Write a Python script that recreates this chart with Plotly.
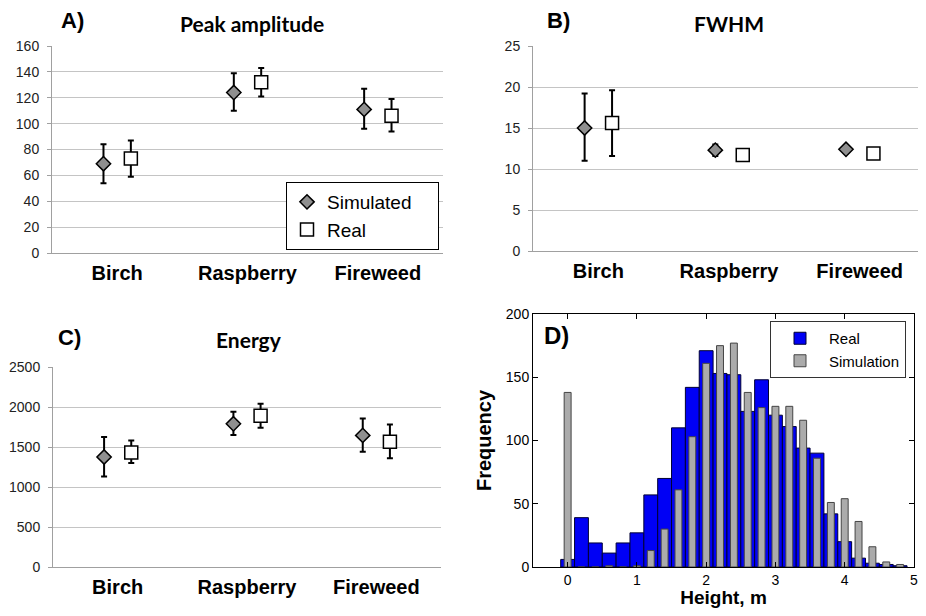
import plotly.graph_objects as go

# ---------------- data ----------------
categories = ["Birch", "Raspberry", "Fireweed"]

amp_sim = [69, 124, 111]
amp_sim_lo = [54, 110, 96]
amp_sim_hi = [84, 139, 127]
amp_real = [73, 132, 106]
amp_real_lo = [59, 121, 94]
amp_real_hi = [87, 143, 119]

fwhm_sim = [15.0, 12.3, 12.4]
fwhm_sim_lo = [11.0, 11.6, 12.1]
fwhm_sim_hi = [19.2, 13.0, 12.7]
fwhm_real = [15.6, 11.7, 11.9]
fwhm_real_lo = [11.6, 11.5, 11.7]
fwhm_real_hi = [19.6, 11.9, 12.1]

en_sim = [1375, 1790, 1645]
en_sim_lo = [1130, 1650, 1440]
en_sim_hi = [1625, 1940, 1855]
en_real = [1430, 1890, 1565]
en_real_lo = [1300, 1740, 1360]
en_real_hi = [1580, 2040, 1780]

hist_bins = [0.0, 0.2, 0.4, 0.6, 0.8, 1.0, 1.2, 1.4, 1.6, 1.8, 2.0, 2.2, 2.4,
             2.6, 2.8, 3.0, 3.2, 3.4, 3.6, 3.8, 4.0, 4.2, 4.4, 4.6, 4.8]
hist_real = [6, 39, 19, 11, 19, 27, 57, 70, 110, 142, 171, 153, 152,
             123, 148, 120, 111, 94, 90, 42, 20, 7, 3, 2, 1]
hist_sim = [138, 0, 0, 1, 0, 1, 13, 30, 61, 103, 161, 175, 177,
            138, 126, 127, 127, 116, 86, 51, 54, 36, 16, 4, 2]

# ---------------- figure ----------------
OX, OY = 8, 8  # page body margin offset
W, H = 926 - 2 * OX, 616 - 2 * OY
fig = go.Figure()

def px_x(a, b):
    return [(a - OX) / W, min(1.0, (b - OX) / W)]

def px_y(top, bottom):
    return [1 - (bottom - OY) / H, 1 - (top - OY) / H]

SIM_FILL = "#8f8f8f"
AX_COL = "#a0a0a0"
GRID_COL = "#c4c4c4"
FONT = "Liberation Sans, Arial, sans-serif"
TITLE_FONT = "Lato, Liberation Sans, sans-serif"

panels = [
    ("x", "y", amp_sim, amp_sim_lo, amp_sim_hi, amp_real, amp_real_lo, amp_real_hi, True),
    ("x2", "y2", fwhm_sim, fwhm_sim_lo, fwhm_sim_hi, fwhm_real, fwhm_real_lo, fwhm_real_hi, False),
    ("x3", "y3", en_sim, en_sim_lo, en_sim_hi, en_real, en_real_lo, en_real_hi, False),
]

off = 0.105
for xa, ya, s, slo, shi, r, rlo, rhi, sl in panels:
    xs = [i - off for i in range(len(categories))]
    xr = [i + off for i in range(len(categories))]
    fig.add_trace(go.Scatter(
        x=xs, y=s, mode="markers", name="Simulated\u00a0\u00a0\u00a0\u00a0", xaxis=xa, yaxis=ya,
        showlegend=sl, legend="legend",
        marker=dict(symbol="diamond", size=11, color=SIM_FILL,
                    line=dict(color="black", width=1.5)),
        error_y=dict(type="data", symmetric=False,
                     array=[h - v for h, v in zip(shi, s)],
                     arrayminus=[v - l for v, l in zip(s, slo)],
                     color="black", thickness=2, width=3)))
    fig.add_trace(go.Scatter(
        x=xr, y=r, mode="markers", name="Real", xaxis=xa, yaxis=ya,
        showlegend=sl, legend="legend",
        marker=dict(symbol="square", size=13, color="white",
                    line=dict(color="black", width=1.5)),
        error_y=dict(type="data", symmetric=False,
                     array=[h - v for h, v in zip(rhi, r)],
                     arrayminus=[v - l for v, l in zip(r, rlo)],
                     color="black", thickness=2, width=3)))

# histogram panel D
fig.add_trace(go.Bar(
    x=hist_bins, y=hist_real, width=0.2, name="Real", xaxis="x4", yaxis="y4",
    legend="legend2",
    marker=dict(color="#0000f5", line=dict(color="#000033", width=1))))
fig.add_trace(go.Bar(
    x=hist_bins, y=hist_sim, width=0.1, name="Simulation", xaxis="x4", yaxis="y4",
    legend="legend2",
    marker=dict(color="#ababab", line=dict(color="#444444", width=1))))

cat_x = dict(range=[-0.5, 2.5], tickvals=[0, 1, 2],
             ticktext=["<b>%s</b>" % c for c in categories],
             showline=True, linecolor=AX_COL, linewidth=1, showgrid=False,
             zeroline=False, ticks="outside", ticklen=2, tickcolor="rgba(0,0,0,0)",
             tickfont=dict(family=FONT, size=20, color="black"), fixedrange=True)

def val_y(rng, dt):
    return dict(range=rng, dtick=dt, tick0=0, showline=True, linecolor=AX_COL,
                linewidth=1, showgrid=True, gridcolor=GRID_COL, gridwidth=1,
                zeroline=False, ticks="outside", ticklen=4, tickcolor=AX_COL,
                ticklabelstandoff=5, ticklabeloverflow="allow",
                tickfont=dict(family=FONT, size=14, color="#222222"))

fig.update_layout(
    width=W, height=H, margin=dict(l=0, r=0, t=0, b=0, autoexpand=False),
    paper_bgcolor="white", plot_bgcolor="white", barmode="overlay",
    showlegend=True,
    xaxis=dict(cat_x, domain=px_x(52, 443), anchor="y"),
    yaxis=dict(val_y([0, 160], 20), domain=px_y(46, 253), anchor="x"),
    xaxis2=dict(cat_x, domain=px_x(533, 918), anchor="y2", range=[-0.5, 2.446]),
    yaxis2=dict(val_y([0, 25], 5), domain=px_y(46, 251), anchor="x2"),
    xaxis3=dict(cat_x, domain=px_x(53, 441), anchor="y3"),
    yaxis3=dict(val_y([0, 2500], 500), domain=px_y(367, 567), anchor="x3"),
    xaxis4=dict(domain=px_x(533, 914), anchor="y4", range=[-0.5, 5.0005], dtick=1, tick0=0,
                showline=True, linecolor="black", linewidth=1, mirror="ticks",
                ticks="inside", ticklen=5, tickcolor="black", showgrid=False,
                ticklabeloverflow="allow",
                zeroline=False, tickfont=dict(family=FONT, size=14, color="black"),
                title=dict(text="<b>Height, m</b>", standoff=4,
                           font=dict(family=FONT, size=19, color="black"))),
    yaxis4=dict(domain=px_y(314, 567), anchor="x4", range=[0, 200], dtick=50, tick0=0,
                showline=True, linecolor="black", linewidth=1, mirror="ticks",
                ticks="inside", ticklen=5, tickcolor="black", showgrid=False,
                zeroline=False, tickfont=dict(family=FONT, size=14, color="black"),
                title=dict(text="<b>Frequency</b>", standoff=8,
                           font=dict(family=FONT, size=20, color="black"))),
    legend=dict(x=(286 - OX) / W, y=1 - (182 - OY) / H, xanchor="left", yanchor="top",
                bgcolor="white", bordercolor="black", borderwidth=1,
                font=dict(family=FONT, size=19, color="black"), itemwidth=30),
    legend2=dict(x=(770 - OX) / W, y=1 - (321 - OY) / H, xanchor="left", yanchor="top",
                 bgcolor="white", bordercolor="#333333", borderwidth=1,
                 font=dict(family=FONT, size=15, color="black"), itemwidth=48),
)

annos = [
    ("A)", 72, 20, 22, FONT), ("B)", 558, 20, 22, FONT), ("C)", 70, 337, 22, FONT),
    ("D)", 556, 335, 24, FONT),
    ("Peak amplitude", 252, 23, 21, TITLE_FONT), ("FWHM", 729, 23, 21, TITLE_FONT),
    ("Energy", 249, 339, 21, TITLE_FONT),
]
for txt, ax, ay, sz, fam in annos:
    fig.add_annotation(text="<b>%s</b>" % txt, x=(ax - OX) / W, y=1 - (ay - OY) / H,
                       xref="paper", yref="paper", showarrow=False,
                       xanchor="center", yanchor="middle",
                       font=dict(family=fam, size=sz, color="black"))

fig.write_html("out.html")
